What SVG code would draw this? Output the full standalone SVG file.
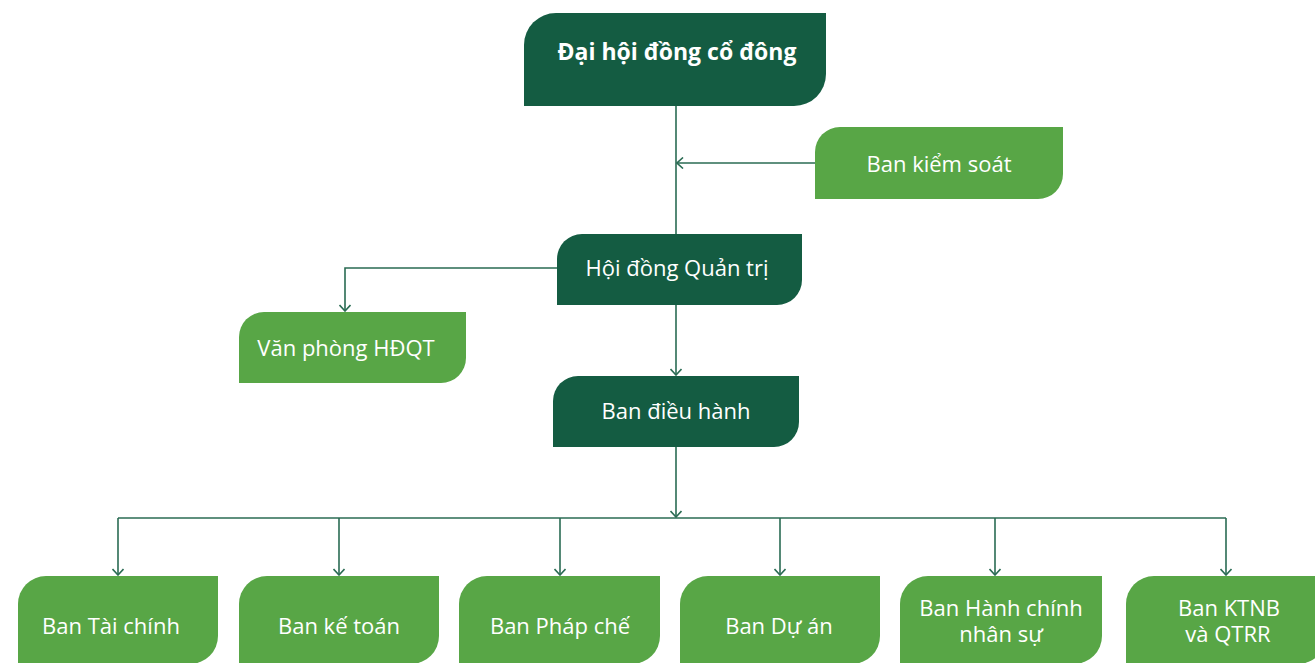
<svg xmlns="http://www.w3.org/2000/svg" width="1315" height="663" viewBox="0 0 1315 663">
<defs>
<style>
.dark{fill:#145c42}
.light{fill:#58a646}
.t{fill:#ffffff;font-family:"Open Sans","Liberation Sans",sans-serif;font-size:22px;text-anchor:middle}
.tb{fill:#ffffff;font-family:"Open Sans","Liberation Sans",sans-serif;font-size:23px;font-weight:bold;text-anchor:middle}
.c{fill:none;stroke:#2a6b53;stroke-width:1.6}
</style>
<marker id="arr" viewBox="0 0 12 12" refX="11" refY="6" markerWidth="12" markerHeight="12" markerUnits="userSpaceOnUse" orient="auto">
<path d="M5,0.5 L11,6 L5,11.5" fill="none" stroke="#2a6b53" stroke-width="1.6"/>
</marker>
</defs>
<rect width="1315" height="663" fill="#ffffff"/>
<g id="connectors">
<path class="c" d="M676,106 V234"/>
<path class="c" d="M815,163 H677" marker-end="url(#arr)"/>
<path class="c" d="M557,268 H345 V311" marker-end="url(#arr)"/>
<path class="c" d="M676,305 V375" marker-end="url(#arr)"/>
<path class="c" d="M676,447 V517" marker-end="url(#arr)"/>
<path class="c" d="M118,518 H1226"/>
<path class="c" d="M118,518 V575" marker-end="url(#arr)"/>
<path class="c" d="M339,518 V575" marker-end="url(#arr)"/>
<path class="c" d="M560,518 V575" marker-end="url(#arr)"/>
<path class="c" d="M780,518 V575" marker-end="url(#arr)"/>
<path class="c" d="M995,518 V575" marker-end="url(#arr)"/>
<path class="c" d="M1226,518 V575" marker-end="url(#arr)"/>
</g>
<g id="dhdcd">
<path class="dark" d="M556,13 H826 V74 A32,32 0 0 1 794,106 H524 V45 A32,32 0 0 1 556,13 Z"/>
<text class="tb" x="677" y="60">Đại hội đồng cổ đông</text>
</g>
<g id="bks">
<path class="light" d="M840,127 H1063 V174 A25,25 0 0 1 1038,199 H815 V152 A25,25 0 0 1 840,127 Z"/>
<text class="t" x="939" y="172">Ban kiểm soát</text>
</g>
<g id="hdqt">
<path class="dark" d="M582,234 H802 V280 A25,25 0 0 1 777,305 H557 V259 A25,25 0 0 1 582,234 Z"/>
<text class="t" x="677" y="276">Hội đồng Quản trị</text>
</g>
<g id="vphdqt">
<path class="light" d="M264,312 H466 V358 A25,25 0 0 1 441,383 H239 V337 A25,25 0 0 1 264,312 Z"/>
<text class="t" x="346" y="356">Văn phòng HĐQT</text>
</g>
<g id="bdh">
<path class="dark" d="M578,376 H799 V422 A25,25 0 0 1 774,447 H553 V401 A25,25 0 0 1 578,376 Z"/>
<text class="t" x="676" y="419">Ban điều hành</text>
</g>
<g id="btc">
<path class="light" d="M46,576 H218 V636 A28,28 0 0 1 190,664 H18 V604 A28,28 0 0 1 46,576 Z"/>
<text class="t" x="111" y="634">Ban Tài chính</text>
</g>
<g id="bkt">
<path class="light" d="M267,576 H439 V636 A28,28 0 0 1 411,664 H239 V604 A28,28 0 0 1 267,576 Z"/>
<text class="t" x="339" y="634">Ban kế toán</text>
</g>
<g id="bpc">
<path class="light" d="M487,576 H660 V636 A28,28 0 0 1 632,664 H459 V604 A28,28 0 0 1 487,576 Z"/>
<text class="t" x="560" y="634">Ban Pháp chế</text>
</g>
<g id="bda">
<path class="light" d="M708,576 H880 V636 A28,28 0 0 1 852,664 H680 V604 A28,28 0 0 1 708,576 Z"/>
<text class="t" x="779" y="634">Ban Dự án</text>
</g>
<g id="bhcns">
<path class="light" d="M928,576 H1102 V636 A28,28 0 0 1 1074,664 H900 V604 A28,28 0 0 1 928,576 Z"/>
<text class="t" x="1001" y="616">Ban Hành chính</text>
<text class="t" x="1001" y="642">nhân sự</text>
</g>
<g id="bktnb">
<path class="light" d="M1154,576 H1326 V636 A28,28 0 0 1 1298,664 H1126 V604 A28,28 0 0 1 1154,576 Z"/>
<text class="t" x="1229" y="616">Ban KTNB</text>
<text class="t" x="1228" y="642">và QTRR</text>
</g>
</svg>
